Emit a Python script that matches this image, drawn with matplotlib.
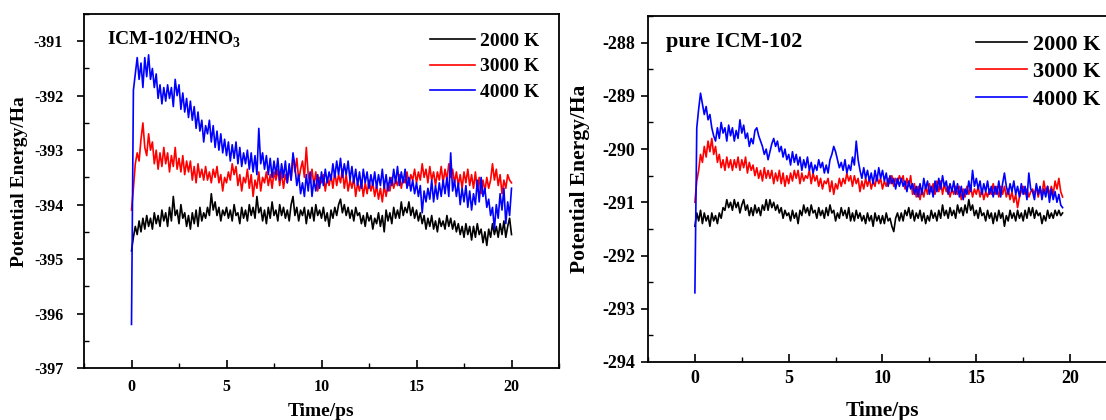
import numpy as np
import matplotlib
matplotlib.use("Agg")
import matplotlib.pyplot as plt
from matplotlib.ticker import MultipleLocator

plt.rcParams['font.family'] = ['Liberation Serif', 'DejaVu Serif']
plt.rcParams['font.weight'] = 'bold'
plt.rcParams['axes.unicode_minus'] = False
plt.rcParams['mathtext.fontset'] = 'custom'
plt.rcParams['mathtext.rm'] = 'Liberation Serif:bold'
plt.rcParams['mathtext.bf'] = 'Liberation Serif:bold'

series_labels = ["2000 K", "3000 K", "4000 K"]
series_colors = ["#000000", "#ff0000", "#0000ff"]

# ---- left panel: ICM-102/HNO3 (t = 0 .. 20 ps, step 0.1) ----
time_left = np.round(np.arange(0, 20.001, 0.1), 2)
hno3_2000 = [
    -394.85, -394.60, -394.40, -394.55, -394.30, -394.50, -394.25, -394.45, -394.20, -394.40,
    -394.25, -394.45, -394.15, -394.35, -394.20, -394.40, -394.10, -394.30, -394.15, -394.40,
    -394.05, -394.30, -393.85, -394.20, -394.10, -394.35, -394.00, -394.25, -394.15, -394.40,
    -394.20, -394.45, -394.15, -394.35, -394.10, -394.40, -394.05, -394.30, -394.15, -394.25,
    -394.05, -394.20, -393.80, -394.10, -393.95, -394.20, -394.05, -394.30, -394.10, -394.20,
    -394.05, -394.25, -394.10, -394.30, -394.00, -394.20, -394.15, -394.35, -394.05, -394.25,
    -394.10, -394.30, -394.00, -394.20, -394.05, -394.25, -393.85, -394.15, -394.05, -394.30,
    -394.10, -394.35, -394.05, -394.25, -393.95, -394.20, -394.10, -394.30, -394.00, -394.20,
    -394.05, -394.25, -394.10, -394.30, -394.00, -393.85, -394.20, -394.05, -394.30, -394.10,
    -394.20, -394.05, -394.35, -394.10, -394.25, -394.05, -394.30, -394.00, -394.20, -394.10,
    -394.25, -394.05, -394.30, -394.15, -394.40, -394.10, -394.25, -394.05, -394.20, -394.00,
    -393.90, -394.15, -394.00, -394.20, -394.05, -394.25, -394.10, -394.30, -394.05, -394.20,
    -394.15, -394.35, -394.20, -394.40, -394.15, -394.30, -394.20, -394.45, -394.25, -394.35,
    -394.15, -394.40, -394.20, -394.50, -394.10, -394.30, -394.15, -394.35, -394.05, -394.25,
    -394.10, -394.25, -393.95, -394.20, -394.05, -394.15, -393.95, -394.20, -394.05, -394.25,
    -394.10, -394.30, -394.15, -394.35, -394.20, -394.45, -394.25, -394.40, -394.20, -394.45,
    -394.30, -394.50, -394.25, -394.40, -394.30, -394.45, -394.20, -394.40, -394.25, -394.45,
    -394.30, -394.50, -394.35, -394.55, -394.40, -394.60, -394.35, -394.55, -394.40, -394.65,
    -394.40, -394.60, -394.35, -394.55, -394.45, -394.70, -394.50, -394.75, -394.45, -394.60,
    -394.35, -394.55, -394.40, -394.60, -394.35, -394.55, -394.30, -394.60, -394.40, -394.25,
    -394.55]
hno3_3000 = [
    -394.10, -393.70, -393.25, -393.05, -393.20, -392.80, -392.50, -392.95, -393.10, -392.70,
    -393.00, -392.85, -393.25, -393.00, -393.35, -393.05, -393.30, -392.95, -393.25, -393.05,
    -393.40, -393.10, -393.30, -392.95, -393.35, -393.15, -393.40, -393.10, -393.45, -393.20,
    -393.40, -393.20, -393.55, -393.30, -393.60, -393.25, -393.50, -393.35, -393.55, -393.30,
    -393.55, -393.40, -393.60, -393.35, -393.50, -393.30, -393.60, -393.45, -393.75, -393.50,
    -393.60, -393.40, -393.55, -393.25, -393.45, -393.30, -393.65, -393.45, -393.75, -393.50,
    -393.60, -393.35, -393.70, -393.45, -393.85, -393.55, -393.70, -393.40, -393.75, -393.50,
    -393.60, -393.40, -393.65, -393.45, -393.70, -393.40, -393.55, -393.35, -393.65, -393.40,
    -393.70, -393.45, -393.60, -393.30, -393.55, -393.10, -393.40, -393.15, -393.55, -393.35,
    -393.20, -393.50, -392.95, -393.45, -393.60, -393.35, -393.65, -393.40, -393.75, -393.50,
    -393.60, -393.45, -393.75, -393.50, -393.65, -393.45, -393.70, -393.40, -393.65, -393.45,
    -393.60, -393.35, -393.70, -393.45, -393.75, -393.55, -393.70, -393.50, -393.85, -393.60,
    -393.75, -393.55, -393.85, -393.60, -393.80, -393.55, -393.75, -393.60, -393.85, -393.65,
    -393.90, -393.70, -393.95, -393.65, -393.85, -393.60, -393.75, -393.50, -393.70, -393.55,
    -393.65, -393.45, -393.70, -393.50, -393.60, -393.40, -393.65, -393.45, -393.55, -393.35,
    -393.60, -393.40, -393.55, -393.25, -393.50, -393.35, -393.60, -393.30, -393.55, -393.40,
    -393.65, -393.40, -393.55, -393.30, -393.60, -393.35, -393.55, -393.25, -393.50, -393.35,
    -393.60, -393.40, -393.65, -393.45, -393.70, -393.40, -393.60, -393.35, -393.65, -393.45,
    -393.70, -393.40, -393.75, -393.50, -393.80, -393.55, -393.75, -393.50, -393.70, -393.55,
    -393.25, -393.55, -393.35, -393.65, -393.45, -393.80, -393.55, -393.70, -393.45, -393.55,
    -393.60]
hno3_4000 = [
    -396.20, -391.90, -391.60, -391.30, -391.70, -391.40, -391.85, -391.30, -391.65, -391.25,
    -391.70, -391.50, -391.85, -391.60, -392.05, -391.80, -392.15, -391.85, -392.10, -391.80,
    -392.05, -391.85, -392.20, -391.70, -392.00, -391.80, -392.25, -391.95, -392.30, -392.05,
    -392.40, -392.10, -392.45, -392.20, -392.60, -392.30, -392.65, -392.45, -392.85, -392.55,
    -392.70, -392.45, -392.85, -392.55, -392.95, -392.65, -393.00, -392.70, -393.05, -392.80,
    -393.10, -392.85, -393.20, -392.90, -393.15, -392.85, -393.25, -392.95, -393.30, -393.05,
    -393.25, -393.00, -393.35, -393.05, -393.40, -393.10, -393.45, -392.60, -393.25, -393.05,
    -393.35, -393.10, -393.45, -393.15, -393.50, -393.20, -393.45, -393.15, -393.55, -393.25,
    -393.50, -393.20, -393.60, -393.25, -393.55, -393.05, -393.30, -393.65, -393.45, -393.80,
    -393.60, -393.85, -393.45, -393.75, -393.40, -393.85, -393.55, -393.75, -393.45, -393.70,
    -393.40, -393.65, -393.35, -393.60, -393.40, -393.55, -393.25, -393.50, -393.20, -393.45,
    -393.15, -393.50, -393.25, -393.45, -393.20, -393.55, -393.30, -393.60, -393.35, -393.65,
    -393.40, -393.70, -393.35, -393.60, -393.40, -393.70, -393.45, -393.65, -393.40, -393.70,
    -393.45, -393.65, -393.35, -393.70, -393.45, -393.75, -393.50, -393.65, -393.35, -393.60,
    -393.30, -393.65, -393.40, -393.60, -393.35, -393.70, -393.50, -393.75, -393.55, -393.80,
    -393.60, -393.85, -393.65, -394.15, -393.75, -393.95, -393.70, -393.90, -393.55, -393.95,
    -393.65, -393.90, -393.60, -393.85, -393.55, -393.80, -393.50, -393.85, -393.05, -393.75,
    -393.55, -393.85, -393.60, -394.00, -393.70, -393.95, -393.65, -394.05, -393.75, -394.10,
    -393.80, -394.00, -393.55, -393.95, -393.50, -393.85, -393.70, -394.05, -393.90, -394.20,
    -394.05, -394.45, -394.00, -394.25, -393.80, -394.10, -393.70, -394.35, -393.95, -394.20,
    -393.70]

# ---- right panel: pure ICM-102 (t = 0 .. 19.6 ps, step 0.1) ----
time_right = np.round(np.arange(0, 19.601, 0.1), 2)
pure_2000 = [
    -291.45, -291.20, -291.35, -291.15, -291.40, -291.20, -291.35, -291.25, -291.45, -291.20,
    -291.35, -291.25, -291.40, -291.20, -291.30, -291.10, -291.15, -290.95, -291.10, -291.00,
    -291.15, -290.95, -291.10, -291.00, -291.20, -291.05, -290.95, -291.15, -291.05, -291.25,
    -291.10, -291.25, -291.05, -291.20, -291.10, -291.25, -291.05, -291.15, -290.95, -291.15,
    -290.95, -291.10, -291.00, -291.15, -291.05, -291.20, -291.10, -291.30, -291.15, -291.25,
    -291.20, -291.35, -291.15, -291.30, -291.20, -291.40, -291.15, -291.25, -291.05, -291.20,
    -291.10, -291.25, -291.05, -291.20, -291.15, -291.30, -291.10, -291.25, -291.15, -291.30,
    -291.10, -291.25, -291.05, -291.20, -291.15, -291.35, -291.20, -291.30, -291.10, -291.25,
    -291.15, -291.30, -291.10, -291.35, -291.20, -291.35, -291.15, -291.30, -291.20, -291.35,
    -291.25, -291.40, -291.20, -291.35, -291.25, -291.45, -291.20, -291.35, -291.25, -291.40,
    -291.25, -291.40, -291.20, -291.35, -291.30, -291.45, -291.55, -291.30, -291.20, -291.35,
    -291.20, -291.35, -291.15, -291.25, -291.10, -291.30, -291.15, -291.35, -291.20, -291.30,
    -291.15, -291.35, -291.20, -291.40, -291.25, -291.35, -291.15, -291.30, -291.20, -291.35,
    -291.15, -291.30, -291.05, -291.25, -291.15, -291.30, -291.10, -291.25, -291.15, -291.30,
    -291.05, -291.20, -291.10, -291.25, -291.05, -291.20, -290.95, -291.15, -291.05, -291.25,
    -291.15, -291.30, -291.10, -291.25, -291.20, -291.35, -291.15, -291.30, -291.20, -291.40,
    -291.20, -291.35, -291.15, -291.30, -291.20, -291.45, -291.25, -291.35, -291.15, -291.30,
    -291.20, -291.35, -291.15, -291.30, -291.20, -291.35, -291.15, -291.30, -291.10, -291.25,
    -291.10, -291.30, -291.15, -291.25, -291.20, -291.40, -291.25, -291.35, -291.15, -291.30,
    -291.20, -291.30, -291.15, -291.25, -291.15, -291.25, -291.20]
pure_3000 = [
    -291.00, -290.60, -290.40, -290.10, -290.25, -289.95, -290.15, -289.85, -290.05, -289.80,
    -290.10, -289.95, -290.25, -290.10, -290.35, -290.20, -290.40, -290.15, -290.35, -290.20,
    -290.40, -290.20, -290.35, -290.15, -290.40, -290.20, -290.35, -290.15, -290.45, -290.25,
    -290.40, -290.30, -290.50, -290.35, -290.55, -290.40, -290.60, -290.35, -290.55, -290.40,
    -290.55, -290.40, -290.65, -290.45, -290.60, -290.40, -290.65, -290.45, -290.70, -290.50,
    -290.65, -290.45, -290.60, -290.40, -290.55, -290.40, -290.65, -290.45, -290.60, -290.50,
    -290.55, -290.40, -290.65, -290.45, -290.60, -290.50, -290.70, -290.55, -290.75, -290.60,
    -290.65, -290.55, -290.80, -290.60, -290.85, -290.65, -290.75, -290.55, -290.70, -290.55,
    -290.65, -290.45, -290.60, -290.50, -290.70, -290.50, -290.65, -290.55, -290.80, -290.60,
    -290.75, -290.55, -290.70, -290.55, -290.75, -290.60, -290.70, -290.50, -290.65, -290.55,
    -290.75, -290.60, -290.70, -290.55, -290.65, -290.50, -290.70, -290.55, -290.65, -290.50,
    -290.60, -290.50, -290.75, -290.55, -290.70, -290.50, -290.85, -290.65, -290.90, -290.70,
    -290.95, -290.75, -290.90, -290.70, -290.85, -290.65, -290.80, -290.65, -290.85, -290.60,
    -290.80, -290.60, -290.85, -290.65, -290.80, -290.70, -290.90, -290.75, -290.85, -290.70,
    -290.85, -290.70, -290.95, -290.75, -290.90, -290.70, -290.85, -290.70, -290.90, -290.75,
    -290.85, -290.70, -290.90, -290.75, -290.95, -290.80, -290.90, -290.75, -290.85, -290.65,
    -290.85, -290.70, -290.90, -290.70, -290.85, -290.70, -290.90, -290.75, -290.95, -290.80,
    -291.00, -290.85, -291.10, -290.90, -290.80, -290.70, -290.85, -290.75, -290.90, -290.80,
    -290.75, -290.85, -290.70, -290.90, -290.75, -290.85, -290.60, -290.80, -290.70, -290.85,
    -290.70, -290.85, -290.60, -290.75, -290.55, -290.80, -290.90]
pure_4000 = [
    -292.70, -289.60, -289.25, -288.95, -289.15, -289.35, -289.20, -289.45, -289.35, -289.60,
    -289.75, -289.85, -289.60, -289.80, -289.50, -289.70, -289.60, -289.85, -289.55, -289.75,
    -289.60, -289.85, -289.65, -289.80, -289.45, -289.70, -289.55, -289.80, -289.70, -289.95,
    -289.80, -289.90, -289.65, -289.60, -289.75, -289.85, -289.95, -290.10, -290.00, -290.20,
    -290.05, -289.90, -289.80, -289.95, -289.85, -290.05, -289.95, -290.15, -290.00, -290.20,
    -290.10, -290.30, -290.05, -290.25, -290.10, -290.30, -290.15, -290.40, -290.20, -290.35,
    -290.15, -290.40, -290.25, -290.45, -290.30, -290.40, -290.20, -290.35, -290.25, -290.45,
    -290.30, -290.45, -290.20, -290.10, -289.95, -290.05, -290.20, -290.35, -290.25, -290.40,
    -290.20, -290.45, -290.30, -290.40, -290.15, -290.30, -289.85, -290.20, -290.40, -290.55,
    -290.35, -290.55, -290.40, -290.60, -290.45, -290.65, -290.40, -290.60, -290.35, -290.55,
    -290.40, -290.60, -290.45, -290.70, -290.50, -290.65, -290.55, -290.75, -290.55, -290.70,
    -290.55, -290.70, -290.60, -290.80, -290.60, -290.75, -290.65, -290.85, -290.70, -290.90,
    -290.65, -290.85, -290.55, -290.75, -290.60, -290.85, -290.70, -290.90, -290.60, -290.80,
    -290.55, -290.75, -290.50, -290.70, -290.60, -290.85, -290.65, -290.80, -290.60, -290.85,
    -290.65, -290.90, -290.70, -290.95, -290.75, -290.85, -290.60, -290.80, -290.40, -290.70,
    -290.55, -290.75, -290.60, -290.85, -290.65, -290.80, -290.60, -290.85, -290.70, -290.90,
    -290.70, -290.85, -290.60, -290.90, -290.65, -290.45, -290.70, -290.85, -290.65, -290.80,
    -290.60, -290.85, -290.70, -290.90, -290.65, -290.85, -290.70, -290.95, -290.45, -290.75,
    -290.80, -290.95, -290.65, -290.85, -290.70, -290.95, -290.75, -290.90, -290.70, -291.00,
    -290.75, -290.95, -290.80, -291.00, -290.85, -291.05, -291.10]

W, H = 1106, 420
fig = plt.figure(figsize=(W / 100, H / 100), dpi=100)
fig.patch.set_facecolor('white')

ax1 = fig.add_axes([84 / W, (H - 368) / H, (559 - 84) / W, (368 - 14) / H])
ax2 = fig.add_axes([648 / W, (H - 362) / H, (1117 - 648) / W, (362 - 16) / H])


def style(ax, ylim, yticks, tick_fs, label_fs, ypad, xpad):
    ax.set_xlim(-2.5, 22.5)
    ax.set_ylim(*ylim)
    ax.set_xticks([0, 5, 10, 15, 20])
    ax.set_yticks(yticks)
    ax.xaxis.set_minor_locator(MultipleLocator(2.5))
    ax.yaxis.set_minor_locator(MultipleLocator(0.5))
    ax.tick_params(axis='x', which='major', direction='in', length=6, width=1.2,
                   labelsize=tick_fs, pad=xpad)
    ax.tick_params(axis='x', which='minor', direction='in', length=3.5, width=1.0)
    ax.tick_params(axis='y', which='major', direction='out', length=5, width=1.2,
                   labelsize=tick_fs, pad=ypad)
    ax.tick_params(axis='y', which='minor', direction='in', length=3.5, width=1.0)
    for lab in ax.get_xticklabels() + ax.get_yticklabels():
        lab.set_fontweight('bold')
    for s in ax.spines.values():
        s.set_linewidth(1.3)
    ax.set_xlabel("Time/ps", fontsize=label_fs, fontweight='bold')
    ax.set_ylabel("Potential Energy/Ha", fontsize=label_fs, fontweight='bold')


panels = [
    (ax1, time_left, [hno3_2000, hno3_3000, hno3_4000], (-397, -390.5),
     [-397, -396, -395, -394, -393, -392, -391], "ICM-102/HNO$_3$",
     11.5, 14, 14, (107, 40), (430, 32), 14, 0.42, 10, 8),
    (ax2, time_right, [pure_2000, pure_3000, pure_4000], (-294, -287.5),
     [-294, -293, -292, -291, -290, -289, -288], "pure ICM-102",
     13, 15.5, 16, (666, 42), (976, 34), 16, 0.32, 4, 6),
]

for (ax, t, ys, ylim, yticks, title, tfs, lfs, ttfs, tpos, lpos, legfs,
     lspace, ypad, xpad) in panels:
    for y, lab, c in zip(ys, series_labels, series_colors):
        ax.plot(t, y, color=c, lw=1.2, label=lab)
    style(ax, ylim, yticks, tfs, lfs, ypad, xpad)
    fig.text(tpos[0] / W, 1 - tpos[1] / H, title, fontsize=ttfs, fontweight='bold',
             ha='left', va='center')
    ax.legend(loc='upper left', bbox_to_anchor=(lpos[0] / W, 1 - lpos[1] / H),
              bbox_transform=fig.transFigure, frameon=False,
              prop={'size': legfs, 'weight': 'bold'}, handlelength=2.3,
              handletextpad=0.25, labelspacing=lspace, borderpad=0.0, borderaxespad=0.0)

# axis label positions (figure pixels)
ax1.xaxis.set_label_coords(321 / W, 1 - 412 / H, transform=fig.transFigure)
ax1.yaxis.set_label_coords(20 / W, 1 - 182 / H, transform=fig.transFigure)
ax2.xaxis.set_label_coords(882 / W, 1 - 411 / H, transform=fig.transFigure)
ax2.yaxis.set_label_coords(580 / W, 1 - 179 / H, transform=fig.transFigure)
for a in (ax1, ax2):
    a.xaxis.label.set_va('center')
    a.yaxis.label.set_va('center')

fig.savefig("out.png", dpi=100, facecolor='white')
